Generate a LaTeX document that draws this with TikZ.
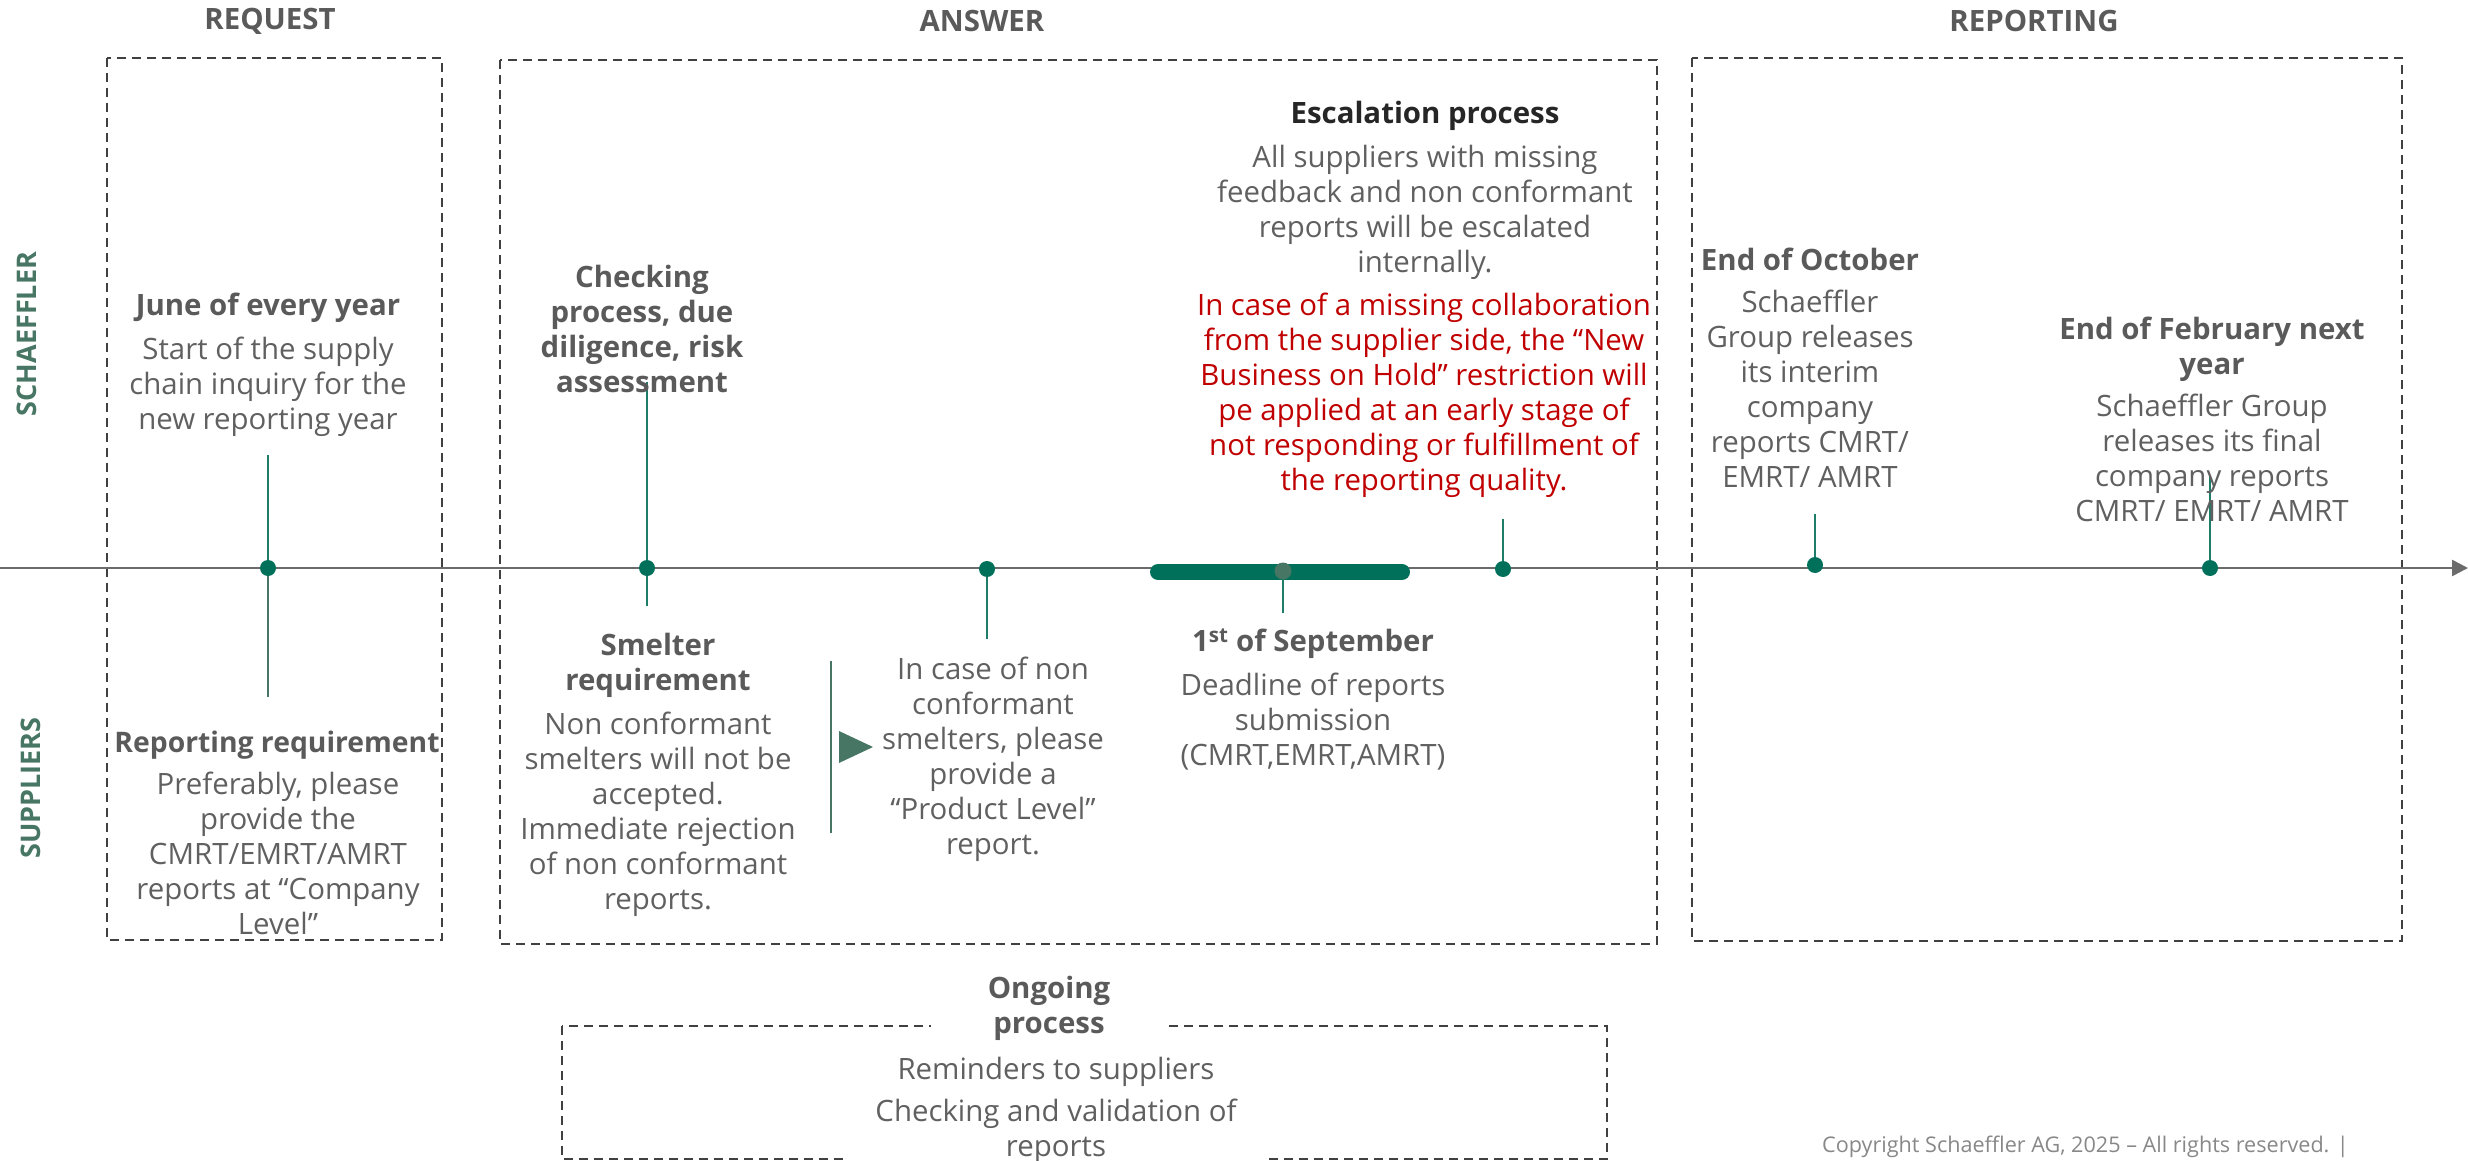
\documentclass[tikz,border=0pt]{standalone}
\usepackage{fontspec}
\IfFontExistsTF{Noto Sans Bold}
  {\setmainfont{Noto Sans}[BoldFont={Noto Sans Bold}]}
  {\IfFontExistsTF{Open Sans Bold}
     {\setmainfont{Open Sans}[BoldFont={Open Sans Bold}]}
     {\setmainfont{Noto Sans}[BoldFont={Noto Sans},BoldFeatures={FakeBold=3}]}}
\usetikzlibrary{arrows.meta}
\definecolor{txt}{RGB}{96,96,96}
\definecolor{ttl}{RGB}{90,90,90}
\definecolor{dark}{RGB}{38,38,38}
\definecolor{esc}{RGB}{192,0,0}
\definecolor{dotc}{RGB}{0,112,90}
\definecolor{stemc}{RGB}{30,125,105}
\definecolor{sgreen}{RGB}{72,118,100}
\definecolor{boxc}{RGB}{64,64,64}
\definecolor{axisc}{RGB}{107,107,107}
\definecolor{copyc}{RGB}{136,136,136}
\newcommand{\fsz}{\fontsize{29.4}{35}\selectfont}
\begin{document}
\begin{tikzpicture}[x=1pt,y=-1pt,
  dashbox/.style={draw=boxc, line width=2pt, dash pattern=on 9pt off 6pt},
  dot/.style={circle, fill=dotc, minimum size=16pt, inner sep=0pt},
  stem/.style={draw=stemc, line width=1.8pt},
  body/.style={anchor=north, inner sep=0pt, align=center, text=txt, font=\fsz},
  head/.style={anchor=north, inner sep=0pt, align=center, text=ttl, font=\fsz\bfseries},
  side/.style={rotate=90, inner sep=0pt, text=sgreen, font=\fontsize{27}{30}\selectfont\bfseries},
  ]
\useasboundingbox (0,0) rectangle (2468,1161);

% section titles
\node[head, anchor=center] (treq) at (270,21) {REQUEST};
\node[head, anchor=center] (tans) at (982,21) {ANSWER};
\node[head, anchor=center] (trep) at (2034,21) {REPORTING};

% side labels
\node[side] (lsch) at (27,334) {SCHAEFFLER};
\node[side] (lsup) at (31,788) {SUPPLIERS};

% dashed boxes
\draw[dashbox] (107,58) rectangle (442,940);
\draw[dashbox] (500,60) rectangle (1657,944);
\draw[dashbox] (1692,58) rectangle (2402,941);
\draw[dashbox] (562,1026) rectangle (1607,1159);

% axis
\coordinate (a0) at (0,568);
\coordinate (a1) at (2468,568);
\draw[axisc, line width=2.5pt, -{Triangle[length=16pt,width=16pt]}] (a0) -- (a1);

% thick bar
\coordinate (b0) at (1158,572);
\coordinate (b1) at (1402,572);
\draw[dotc, line width=16pt, line cap=round] (b0) -- (b1);

% stem end points
\coordinate (s1u) at (268,455);
\coordinate (s1d) at (268,697);
\coordinate (s2u) at (647,382);
\coordinate (s2d) at (647,606);
\coordinate (s3d) at (987,639);
\coordinate (s4d) at (1283,613);
\coordinate (s5u) at (1503,519);
\coordinate (s6u) at (1815,514);
\coordinate (s7u) at (2210,476);

% stems
\draw[stem] (s1u) -- (268,568);
\draw[stem, draw=sgreen] (268,568) -- (s1d);
\draw[stem] (s2u) -- (647,568) -- (s2d);
\draw[stem] (987,569) -- (s3d);
\draw[stem] (1283,571) -- (s4d);
\draw[stem] (s5u) -- (1503,569);
\draw[stem] (s6u) -- (1815,565);
\draw[stem] (s7u) -- (2210,568);

% dots
\node[dot] (d1) at (268,568) {};
\node[dot] (d2) at (647,568) {};
\node[dot] (d3) at (987,569) {};
\node[dot, fill=sgreen, minimum size=17pt] (d4) at (1283,571) {};
\node[dot] (d5) at (1503,569) {};
\node[dot] (d6) at (1815,565) {};
\node[dot] (d7) at (2210,568) {};

% separator and play triangle
\coordinate (sep0) at (831,661);
\coordinate (sep1) at (831,833);
\draw[sgreen, line width=1.8pt] (sep0) -- (sep1);
\fill[sgreen] (839,731) -- (839,763) -- (873,747) -- cycle;

% texts
\node[head] (h1) at (268,293) {June of every year};
\node[body] (b1t) at (268,337) {Start of the supply\\chain inquiry for the\\new reporting year};

\node[head, font=\fontsize{28.3}{35}\selectfont\bfseries] (h2) at (277,731) {Reporting requirement};
\node[body] (b2t) at (278,772) {Preferably, please\\provide the\\CMRT/EMRT/AMRT\\reports at “Company\\Level”};

\node[head] (h3) at (642,265) {Checking\\process, due\\diligence, risk\\assessment};

\node[head] (h4) at (658,633) {Smelter\\requirement};
\node[body] (b4t) at (658,712) {Non conformant\\smelters will not be\\accepted.\\Immediate rejection\\of non conformant\\reports.};

\node[body] (b5t) at (993,657) {In case of non\\conformant\\smelters, please\\provide a\\“Product Level”\\report.};

\node[head] (h6) at (1313,629) {1\textsuperscript{st} of September};
\node[body] (b6t) at (1313,673) {Deadline of reports\\submission\\(CMRT,EMRT,AMRT)};

\node[head, text=dark] (h7) at (1425,101) {Escalation process};
\node[body] (b7t) at (1425,145) {All suppliers with missing\\feedback and non conformant\\reports will be escalated\\internally.};
\node[body, text=esc] (r7t) at (1424,293) {In case of a missing collaboration\\from the supplier side, the “New\\Business on Hold” restriction will\\pe applied at an early stage of\\not responding or fulfillment of\\the reporting quality.};

\node[head] (h8) at (1810,248) {End of October};
\node[body] (b8t) at (1810,290) {Schaeffler\\Group releases\\its interim\\company\\reports CMRT/\\EMRT/ AMRT};

\node[head] (h9) at (2212,317) {End of February next\\year};
\node[body] (b9t) at (2212,394) {Schaeffler Group\\releases its final\\company reports\\CMRT/ EMRT/ AMRT};

\node[head, fill=white, minimum width=236pt] (h10) at (1049,976) {Ongoing\\process};
\node[body, fill=white, minimum width=415pt] (b10t) at (1056,1057) {Reminders to suppliers\\[7pt]Checking and validation of\\reports};

\node[anchor=east, inner sep=0pt, text=copyc, font=\fontsize{21.6}{25}\selectfont] (copy) at (2349,1147) {Copyright Schaeffler AG, 2025 – All rights reserved. |};
\end{tikzpicture}
\end{document}
